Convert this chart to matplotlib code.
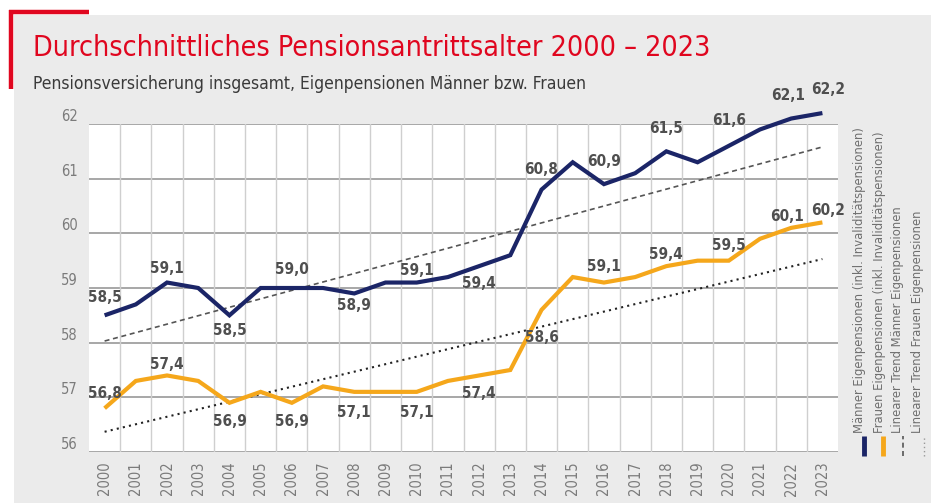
import matplotlib
matplotlib.use("Agg")
import matplotlib.pyplot as plt
from matplotlib.lines import Line2D
from matplotlib.patches import Rectangle
import numpy as np

# data
years = list(range(2000, 2024))
maenner = [58.5, 58.7, 59.1, 59.0, 58.5, 59.0, 59.0, 59.0, 58.9, 59.1, 59.1, 59.2,
           59.4, 59.6, 60.8, 61.3, 60.9, 61.1, 61.5, 61.3, 61.6, 61.9, 62.1, 62.2]
frauen = [56.8, 57.3, 57.4, 57.3, 56.9, 57.1, 56.9, 57.2, 57.1, 57.1, 57.1, 57.3,
          57.4, 57.5, 58.6, 59.2, 59.1, 59.2, 59.4, 59.5, 59.5, 59.9, 60.1, 60.2]
trend_years = [2000, 2023]
trend_maenner = [58.03, 61.58]
trend_frauen = [56.37, 59.53]
yticks = [56, 57, 58, 59, 60, 61, 62]

title = "Durchschnittliches Pensionsantrittsalter 2000 \u2013 2023"
subtitle = "Pensionsversicherung insgesamt, Eigenpensionen M\u00e4nner bzw. Frauen"
legend_labels = ["M\u00e4nner Eigenpensionen (inkl. Invalidit\u00e4tspensionen)",
                 "Frauen Eigenpensionen (inkl. Invalidit\u00e4tspensionen)",
                 "Linearer Trend M\u00e4nner Eigenpensionen",
                 "Linearer Trend Frauen Eigenpensionen"]

# label offsets in pixels (dx, dy) per labelled year
men_off = {2000: (0, 18), 2002: (0, 14), 2004: (0, -15), 2006: (0, 18), 2008: (0, -12),
           2010: (0, 12), 2012: (0, -17), 2014: (0, 20), 2016: (0, 23), 2018: (0, 23),
           2020: (0, 25), 2022: (-3, 23), 2023: (6, 24)}
women_off = {2000: (0, 15), 2002: (0, 11), 2004: (0, -19), 2006: (0, -19), 2008: (0, -21),
             2010: (0, -21), 2012: (0, -18), 2014: (0, -28), 2016: (0, 16), 2018: (0, 12),
             2020: (0, 15), 2022: (-4, 11), 2023: (6, 12)}

NAVY = "#1b2567"
ORANGE = "#f5a71b"
RED = "#e0061f"
BG = "#ebebeb"
plt.rcParams['font.family'] = ["DejaVu Sans"]
plt.rcParams['font.stretch'] = "condensed"

W, H = 931, 503
fig = plt.figure(figsize=(W / 100, H / 100), dpi=100)
fig.patch.set_facecolor("white")

def fx(px):
    return px / W

def fy(py):
    return 1 - py / H

# grey panel and red corner
fig.add_artist(Rectangle((fx(14), 0), 1, fy(15), transform=fig.transFigure,
                         facecolor=BG, edgecolor="none", zorder=0))
fig.add_artist(Line2D([fx(11), fx(11)], [fy(10), fy(89)], transform=fig.transFigure,
                      color=RED, lw=3.2, solid_capstyle="butt"))
fig.add_artist(Line2D([fx(9), fx(89)], [fy(12), fy(12)], transform=fig.transFigure,
                      color=RED, lw=3.2, solid_capstyle="butt"))

fig.text(fx(33), fy(56), title, color=RED, fontsize=20.5, va="baseline", ha="left")
fig.text(fx(33), fy(89), subtitle, color="#3a3a3a", fontsize=12.5, va="baseline", ha="left")

ax = fig.add_axes([fx(89), fy(452), fx(838 - 89), (452 - 124) / H])
ax.set_facecolor("white")
x = np.arange(len(years))

ax.set_xlim(-0.5, len(years) - 0.5)
ax.set_ylim(56, 62)
for s in ax.spines.values():
    s.set_visible(False)

# grid
ax.set_yticks(yticks)
ax.set_yticklabels([str(v) for v in yticks])
for v in yticks:
    ax.axhline(v, color="#a0a0a0", lw=1.3, zorder=1)
ax.set_xticks(x)
ax.set_xticklabels([str(y) for y in years], rotation=90)
ax.set_xticks(x[:-1] + 0.5, minor=True)
ax.grid(which="minor", axis="x", color="#cfcfcf", lw=1.0, zorder=0)
ax.tick_params(axis="both", which="both", length=0)
ax.tick_params(axis="y", pad=8, labelsize=10.5, labelcolor="#7b7b7b")
ax.tick_params(axis="x", pad=7, labelsize=10.5, labelcolor="#7b7b7b")
for lbl in ax.get_yticklabels():
    lbl.set_va("bottom")

# trends
tx = [years.index(t) for t in trend_years]
ax.plot(tx, trend_maenner, color="#555555", lw=1.2, ls=(0, (3, 2.2)), zorder=2)
ax.plot(tx, trend_frauen, color="#222222", lw=1.5, ls=(0, (1, 2)), zorder=2)

# main lines
ax.plot(x, maenner, color=NAVY, lw=3.0, zorder=3, clip_on=False,
        solid_joinstyle="miter", solid_capstyle="butt")
ax.plot(x, frauen, color=ORANGE, lw=3.0, zorder=3, clip_on=False,
        solid_joinstyle="miter", solid_capstyle="butt")

def label(series, offs):
    for yr, (dx, dy) in offs.items():
        i = years.index(yr)
        v = series[i]
        ax.annotate(f"{v:.1f}".replace(".", ","), (i, v),
                    xytext=(dx * 0.72, dy * 0.72), textcoords="offset points",
                    ha="center", va="center", fontsize=11, fontweight="bold",
                    color="#4f4f4f", zorder=5, annotation_clip=False)

label(maenner, men_off)
label(frauen, women_off)

# vertical legend on the right
leg_x = [860, 879, 898, 918]
sw_x = [864, 883, 903, 924]
styles = [dict(color=NAVY, lw=3.5), dict(color=ORANGE, lw=3.5),
          dict(color="#555555", lw=1.2, ls=(0, (3, 2))),
          dict(color="#999999", lw=1.0, ls=(0, (1, 2)))]
for lx, sx, txt, st in zip(leg_x, sw_x, legend_labels, styles):
    fig.add_artist(Line2D([fx(sx), fx(sx)], [fy(456), fy(436)],
                          transform=fig.transFigure, solid_capstyle="butt", **st))
    fig.text(fx(lx), fy(433), txt, rotation=90, ha="center", va="bottom",
             fontsize=9.3, color="#6f6f6f")

plt.savefig("out.png", dpi=100, facecolor=fig.get_facecolor())
